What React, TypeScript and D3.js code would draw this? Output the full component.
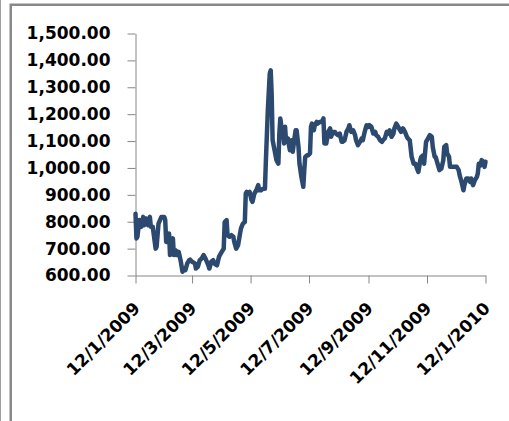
import React, { useRef, useEffect } from 'react';
import * as d3 from 'd3';

const dates = [
  '2009-01-12', '2009-01-13', '2009-01-14', '2009-01-16', '2009-01-18', '2009-01-20', '2009-01-21', '2009-01-23',
  '2009-01-25', '2009-01-27', '2009-01-28', '2009-01-30', '2009-02-02', '2009-02-03', '2009-02-05', '2009-02-08',
  '2009-02-11', '2009-02-12', '2009-02-13', '2009-02-15', '2009-02-16', '2009-02-17', '2009-02-19', '2009-02-20',
  '2009-02-21', '2009-02-23', '2009-02-24', '2009-02-26', '2009-02-28', '2009-03-02', '2009-03-03', '2009-03-05',
  '2009-03-07', '2009-03-09', '2009-03-10', '2009-03-12', '2009-03-15', '2009-03-16', '2009-03-18', '2009-03-20',
  '2009-03-22', '2009-03-24', '2009-03-26', '2009-03-29', '2009-03-30', '2009-04-01', '2009-04-03', '2009-04-04',
  '2009-04-07', '2009-04-09', '2009-04-11', '2009-04-14', '2009-04-15', '2009-04-17', '2009-04-18', '2009-04-20',
  '2009-04-22', '2009-04-24', '2009-04-25', '2009-04-27', '2009-04-29', '2009-05-01', '2009-05-02', '2009-05-04',
  '2009-05-06', '2009-05-07', '2009-05-08', '2009-05-09', '2009-05-11', '2009-05-13', '2009-05-14', '2009-05-16',
  '2009-05-18', '2009-05-20', '2009-05-21', '2009-05-23', '2009-05-25', '2009-05-27', '2009-05-28', '2009-05-29',
  '2009-05-30', '2009-06-01', '2009-06-02', '2009-06-03', '2009-06-04', '2009-06-06', '2009-06-08', '2009-06-10',
  '2009-06-11', '2009-06-12', '2009-06-13', '2009-06-15', '2009-06-16', '2009-06-17', '2009-06-18', '2009-06-20',
  '2009-06-21', '2009-06-22', '2009-06-24', '2009-06-25', '2009-06-27', '2009-06-28', '2009-06-29', '2009-07-01',
  '2009-07-02', '2009-07-04', '2009-07-06', '2009-07-07', '2009-07-08', '2009-07-10', '2009-07-11', '2009-07-13',
  '2009-07-14', '2009-07-15', '2009-07-17', '2009-07-18', '2009-07-20', '2009-07-21', '2009-07-23', '2009-07-25',
  '2009-07-27', '2009-07-28', '2009-07-30', '2009-08-01', '2009-08-03', '2009-08-04', '2009-08-06', '2009-08-08',
  '2009-08-09', '2009-08-11', '2009-08-13', '2009-08-15', '2009-08-16', '2009-08-18', '2009-08-20', '2009-08-22',
  '2009-08-23', '2009-08-25', '2009-08-27', '2009-08-29', '2009-08-30', '2009-09-01', '2009-09-03', '2009-09-05',
  '2009-09-06', '2009-09-08', '2009-09-10', '2009-09-12', '2009-09-13', '2009-09-15', '2009-09-17', '2009-09-19',
  '2009-09-20', '2009-09-22', '2009-09-24', '2009-09-26', '2009-09-27', '2009-09-29', '2009-10-01', '2009-10-03',
  '2009-10-04', '2009-10-06', '2009-10-08', '2009-10-09', '2009-10-11', '2009-10-13', '2009-10-15', '2009-10-16',
  '2009-10-18', '2009-10-20', '2009-10-22', '2009-10-23', '2009-10-25', '2009-10-27', '2009-10-28', '2009-10-29',
  '2009-10-31', '2009-11-01', '2009-11-03', '2009-11-05', '2009-11-06', '2009-11-08', '2009-11-09', '2009-11-11',
  '2009-11-12', '2009-11-14', '2009-11-15', '2009-11-17', '2009-11-18', '2009-11-20', '2009-11-21', '2009-11-23',
  '2009-11-24', '2009-11-25', '2009-11-27', '2009-11-29', '2009-11-30', '2009-12-02', '2009-12-03', '2009-12-05',
  '2009-12-06', '2009-12-08', '2009-12-09', '2009-12-11', '2009-12-13', '2009-12-15', '2009-12-16', '2009-12-18',
  '2009-12-20', '2009-12-21', '2009-12-23', '2009-12-25', '2009-12-27', '2009-12-28', '2009-12-30', '2010-01-01',
  '2010-01-03', '2010-01-04', '2010-01-05', '2010-01-07', '2010-01-08', '2010-01-10', '2010-01-11', '2010-01-12',
];

const prices = [
  830, 738, 744, 806, 781, 818, 787, 812,
  787, 818, 781, 781, 700, 707, 793, 818,
  818, 806, 725, 725, 756, 676, 731, 738,
  676, 694, 676, 688, 657, 614, 626, 620,
  645, 657, 659, 651, 645, 626, 632, 657,
  663, 676, 663, 638, 626, 651, 657, 645,
  638, 669, 682, 700, 799, 806, 750, 744,
  750, 744, 725, 700, 713, 756, 775, 793,
  799, 905, 911, 905, 911, 880, 874, 905,
  917, 936, 917, 917, 923, 923, 1029, 1122,
  1215, 1351, 1363, 1276, 1103, 1066, 1029, 1016,
  1128, 1184, 1159, 1128, 1091, 1153, 1097, 1110,
  1085, 1066, 1103, 1060, 1116, 1140, 1140, 1078,
  1016, 967, 930, 992, 1041, 1047, 1047, 1054,
  1153, 1165, 1140, 1159, 1171, 1165, 1171, 1171,
  1184, 1091, 1091, 1134, 1147, 1116, 1134, 1134,
  1128, 1122, 1128, 1097, 1097, 1103, 1134, 1147,
  1159, 1134, 1140, 1122, 1103, 1085, 1097, 1110,
  1103, 1134, 1159, 1153, 1159, 1153, 1128, 1134,
  1122, 1116, 1103, 1097, 1103, 1110, 1134, 1128,
  1140, 1116, 1128, 1147, 1165, 1153, 1140, 1134,
  1147, 1134, 1116, 1110, 1103, 1041, 1029, 1016,
  1016, 1004, 985, 1029, 1041, 1047, 1016, 1097,
  1103, 1116, 1122, 1116, 1078, 1041, 1041, 1016,
  1004, 992, 998, 1029, 1078, 1085, 1054, 1041,
  1004, 1004, 1004, 1004, 1004, 992, 973, 948,
  917, 936, 961, 961, 948, 961, 936, 955,
  967, 980, 1016, 1010, 1029, 1023, 1004, 1023,
];

const tickDates = ['2009-01-12', '2009-03-12', '2009-05-12', '2009-07-12', '2009-09-12', '2009-11-12', '2010-01-12'];
const yTicks = [600, 700, 800, 900, 1000, 1100, 1200, 1300, 1400, 1500];

interface Point {
  date: Date;
  value: number;
}

const parseDate = d3.utcParse('%Y-%m-%d');
const fmtDate = (d: Date) => `${d.getUTCDate()}/${d.getUTCMonth() + 1}/${d.getUTCFullYear()}`;
const fmtValue = d3.format(',.2f');

const W = 509;
const H = 421;

const App: React.FC = () => {
  const svgRef = useRef<SVGSVGElement | null>(null);

  useEffect(() => {
    if (!svgRef.current) return;
    const svg = d3.select(svgRef.current);
    svg.selectAll('*').remove();

    const data: Point[] = dates.map((d, i) => ({ date: parseDate(d)!, value: prices[i] }));

    // chart frame
    svg.append('line')
       .attr('x1', 0.5).attr('x2', 0.5).attr('y1', 0).attr('y2', H)
       .attr('stroke', '#a0a0a0').attr('stroke-width', 1);
    svg.append('rect')
       .attr('x', 10.75).attr('y', 4.75)
       .attr('width', W + 20).attr('height', H + 20)
       .attr('fill', 'none')
       .attr('stroke', '#888').attr('stroke-width', 2.5);

    const xScale = d3.scaleUtc()
                     .domain([parseDate(tickDates[0])!, parseDate(tickDates[tickDates.length - 1])!])
                     .range([135.5, 485.5]);

    const yScale = d3.scaleLinear()
                     .domain([600, 1500])
                     .range([275.5, 33.5]);

    const xAxis = d3.axisBottom(xScale)
                    .tickValues(tickDates.map(d => parseDate(d)!))
                    .tickSize(8)
                    .tickSizeOuter(0)
                    .tickFormat((d: Date) => fmtDate(d));

    const xAxisG = svg.append('g')
                      .attr('transform', `translate(0, ${yScale(600)})`)
                      .call(xAxis);

    xAxisG.selectAll('text')
          .attr('x', 0)
          .attr('y', 0)
          .attr('dy', 0)
          .attr('transform', 'translate(5, 34) rotate(-45)')
          .attr('text-anchor', 'end');

    const yAxis = d3.axisLeft(yScale)
                    .tickValues(yTicks)
                    .tickSize(8)
                    .tickSizeOuter(0)
                    .tickPadding(17)
                    .tickFormat((d: number) => fmtValue(d));

    const yAxisG = svg.append('g')
                      .attr('transform', `translate(${xScale.range()[0]}, 0)`)
                      .call(yAxis);

    [xAxisG, yAxisG].forEach(g => {
      g.selectAll('path, line').attr('stroke', '#868686');
      g.selectAll('text')
       .attr('fill', '#000')
       .attr('font-family', '"DejaVu Sans", Verdana, sans-serif')
       .attr('font-weight', 'bold')
       .attr('font-size', '17px');
    });

    const line = d3.line<Point>()
                   .x(d => xScale(d.date))
                   .y(d => yScale(d.value));

    svg.append('path')
       .datum(data)
       .attr('d', line)
       .attr('fill', 'none')
       .attr('stroke', '#2c4a70')
       .attr('stroke-width', 4.5)
       .attr('stroke-linejoin', 'round')
       .attr('stroke-linecap', 'round');
  }, []);

  return (
    <svg
      ref={svgRef}
      width={W}
      height={H}
      style={{ position: 'absolute', left: 0, top: 0, background: '#fff' }}
    />
  );
};

export default App;
